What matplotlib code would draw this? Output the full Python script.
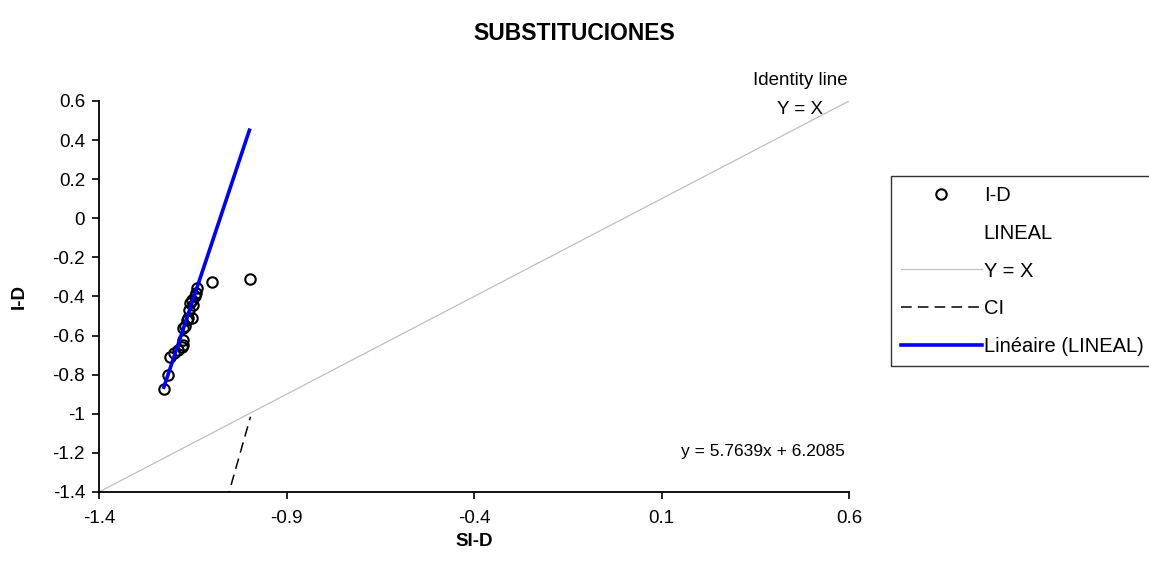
import numpy as np
import matplotlib
matplotlib.use("Agg")
import matplotlib.pyplot as plt
from matplotlib.ticker import FixedLocator, FuncFormatter

plt.rcParams['font.family'] = ['Liberation Sans', 'DejaVu Sans']

# I-D observations (SI-D, I-D)
si_d = [-1.226, -1.215, -1.211, -1.200, -1.189, -1.180, -1.175, -1.175, -1.175,
        -1.170, -1.165, -1.162, -1.160, -1.157, -1.153, -1.153, -1.149, -1.145,
        -1.141, -1.140, -1.099, -0.997]
i_d = [-0.875, -0.800, -0.708, -0.690, -0.674, -0.660, -0.648, -0.622, -0.563,
       -0.550, -0.520, -0.512, -0.470, -0.435, -0.512, -0.418, -0.443, -0.400,
       -0.383, -0.358, -0.326, -0.310]

# trend line of LINEAL
slope = 5.7639
intercept = 6.2085
trend_x = [-1.227, -0.999]

# identity line
ident = [-1.4, 0.6]

# confidence interval segment
ci_x = [-1.06, -0.996]
ci_y = [-1.447, -1.015]

xticks = [-1.4, -0.9, -0.4, 0.1, 0.6]
yticks = [-1.4, -1.2, -1.0, -0.8, -0.6, -0.4, -0.2, 0.0, 0.2, 0.4, 0.6]

fig = plt.figure(figsize=(11.49, 5.76), dpi=100, facecolor='white')
ax = fig.add_axes([99/1149, 1 - 492/576, 750/1149, 391/576])

ax.plot(si_d, i_d, 'o', ls='none', mfc='none', mec='black', ms=7.5, mew=1.5,
        label='I-D', zorder=3)
ax.plot([], [], ls='none', label='LINEAL')
ax.plot(ident, ident, color='#c0c0c0', lw=0.9, label='Y = X', zorder=1)
ax.plot(ci_x, ci_y, color='black', ls=(0, (7, 4)), lw=1.1, label='CI', zorder=2)
tx = np.array(trend_x)
ax.plot(tx, slope*tx + intercept, color='#0000ff', lw=2.6,
        label='Linéaire (LINEAL)', zorder=4)

ax.set_xlim(-1.4, 0.6)
ax.set_ylim(-1.4, 0.6)
ax.xaxis.set_major_locator(FixedLocator(xticks))
ax.yaxis.set_major_locator(FixedLocator(yticks))
fmt = FuncFormatter(lambda v, p: f"{round(v, 1):g}")
ax.xaxis.set_major_formatter(fmt)
ax.yaxis.set_major_formatter(fmt)
ax.tick_params(direction='out', length=5, width=1.2, labelsize=13.5)
ax.tick_params(axis='x', pad=8)
ax.tick_params(axis='y', pad=5)
for s in ['top', 'right']:
    ax.spines[s].set_visible(False)
for s in ['left', 'bottom']:
    ax.spines[s].set_linewidth(1.3)

ax.set_xlabel('SI-D', fontsize=13.5, fontweight='bold', labelpad=4)
ax.set_ylabel('I-D', fontsize=13.5, fontweight='bold', labelpad=18)
fig.suptitle('SUBSTITUCIONES', fontsize=16.5, fontweight='bold', y=0.962)

ax.text(0.469, 0.707, 'Identity line', ha='center', va='center',
        fontsize=13.5, clip_on=False)
ax.text(0.469, 0.554, 'Y = X', ha='center', va='center',
        fontsize=13.5, clip_on=False)
ax.text(0.589, -1.195, 'y = 5.7639x + 6.2085', ha='right', va='center',
        fontsize=12.5)

# legend box runs past the right edge of the figure, as in the original
leg = fig.legend(loc='upper left',
                 bbox_to_anchor=(891/1149, 1 - 176/576, 290/1149, 0),
                 mode='expand', fontsize=14.5, frameon=True, fancybox=False,
                 handlelength=4.0, handletextpad=0.1, labelspacing=0.93,
                 borderpad=0.5, borderaxespad=0)
leg.get_frame().set_edgecolor('black')
leg.get_frame().set_linewidth(1.0)

fig.savefig('out.png', dpi=100)
